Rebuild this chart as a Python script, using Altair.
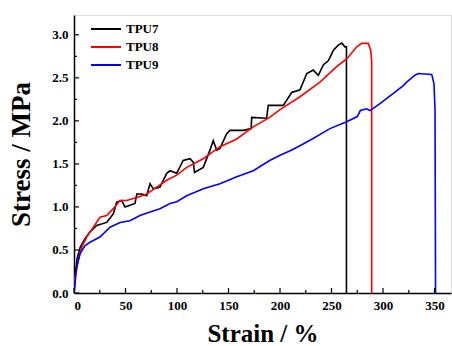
import altair as alt
import pandas as pd

# ---- data ----
tpu7_strain = [0, 1, 3, 6, 10.7, 15.5, 22, 31.7, 38.2, 41.4, 46.3, 49.5, 54.4, 59.2, 61, 66, 70.6,
               73.8, 77, 83.5, 90, 93.2, 99.7, 106, 112.6, 115.8, 117, 125.5, 132, 135.2, 138.5,
               141.7, 148.2, 151.5, 164.4, 172, 172.5, 187, 188.6, 203.2, 211.3, 219.4, 226, 232.3,
               237.2, 242, 247, 251.8, 256.6, 259.9, 263, 264.5, 264.5]
tpu7_stress = [0, 0.2, 0.4, 0.53, 0.63, 0.71, 0.785, 0.82, 0.92, 1.056, 1.075, 1.0, 1.02, 1.04, 1.15,
               1.15, 1.13, 1.27, 1.21, 1.23, 1.39, 1.42, 1.39, 1.54, 1.56, 1.52, 1.40, 1.46, 1.66,
               1.77, 1.66, 1.68, 1.85, 1.89, 1.89, 1.91, 2.04, 2.03, 2.18, 2.18, 2.33, 2.36, 2.55,
               2.59, 2.53, 2.65, 2.70, 2.82, 2.88, 2.905, 2.86, 2.86, 0]

tpu8_strain = [0, 1, 4.2, 7.4, 12.3, 18.8, 25.2, 31.7, 38.2, 44.7, 51, 61, 70.6, 80.3, 90, 99.7,
               109.4, 125.5, 141.7, 158, 174, 190, 200, 219.4, 238.8, 255, 264.7, 274.5, 279.3,
               285.7, 288, 289, 289]
tpu8_stress = [0, 0.18, 0.38, 0.53, 0.65, 0.765, 0.88, 0.90, 0.98, 1.075, 1.075, 1.11, 1.15, 1.23,
               1.31, 1.37, 1.46, 1.56, 1.70, 1.79, 1.93, 2.04, 2.13, 2.28, 2.45, 2.63, 2.72, 2.86,
               2.9, 2.9, 2.82, 2.7, 0]

tpu9_strain = [0, 2.6, 5.8, 10.7, 15.5, 25.2, 35, 44.7, 54.4, 64, 73.8, 83.5, 93.2, 99.7, 109.4,
               125.5, 141.7, 158, 174, 190, 200, 212, 230, 248.5, 264.7, 275, 278, 284, 287.4, 297,
               310, 319.7, 323, 331, 334.3, 347.3, 349.5, 350.5, 351]
tpu9_stress = [0, 0.30, 0.456, 0.55, 0.59, 0.65, 0.765, 0.82, 0.84, 0.90, 0.94, 0.98, 1.04, 1.06,
               1.13, 1.21, 1.27, 1.35, 1.42, 1.54, 1.60, 1.665, 1.78, 1.91, 1.99, 2.05, 2.12, 2.14,
               2.12, 2.20, 2.32, 2.41, 2.45, 2.53, 2.55, 2.54, 2.43, 2.12, 0]

series_names = ["TPU7", "TPU8", "TPU9"]
series_colors = ["#000000", "#ff0000", "#0000ff"]

x_major = [0, 50, 100, 150, 200, 250, 300, 350]
x_minor = [25, 75, 125, 175, 225, 275, 325]
y_major = [0.0, 0.5, 1.0, 1.5, 2.0, 2.5, 3.0]
y_minor = [0.25, 0.75, 1.25, 1.75, 2.25, 2.75]

# ---- build table ----
rows = []
for name, xs, ys in zip(series_names, [tpu7_strain, tpu8_strain, tpu9_strain],
                        [tpu7_stress, tpu8_stress, tpu9_stress]):
    for i, (a, b) in enumerate(zip(xs, ys)):
        rows.append({"series": name, "strain": a, "stress": b, "idx": i})
df = pd.DataFrame(rows)

W, H = 377, 278
FONT = "Liberation Serif"

xscale = alt.Scale(domain=[0, 366], nice=False, zero=False)
yscale = alt.Scale(domain=[0, 3.23], nice=False, zero=False)

lines = alt.Chart(df).mark_line(strokeWidth=1.6, clip=True).encode(
    x=alt.X("strain:Q", scale=xscale,
            axis=alt.Axis(title="Strain / %", values=x_major, ticks=False, grid=False,
                          labelFont=FONT, labelFontWeight="bold", labelFontSize=13,
                          labelColor="black", labelPadding=6,
                          titleFont=FONT, titleFontWeight="bold", titleFontSize=25,
                          titleColor="black", titlePadding=9,
                          domainColor="black", domainWidth=1.5)),
    y=alt.Y("stress:Q", scale=yscale,
            axis=alt.Axis(title="Stress / MPa", values=y_major, format=".1f", ticks=False,
                          grid=False,
                          labelFont=FONT, labelFontWeight="bold", labelFontSize=13,
                          labelColor="black", labelPadding=6,
                          titleFont=FONT, titleFontWeight="bold", titleFontSize=27,
                          titleColor="black", titlePadding=16,
                          domainColor="black", domainWidth=1.5)),
    color=alt.Color("series:N",
                    scale=alt.Scale(domain=series_names, range=series_colors),
                    legend=alt.Legend(title=None, orient="none", legendX=16, legendY=5,
                                      symbolType="stroke", symbolSize=900,
                                      symbolStrokeWidth=2, labelFont=FONT,
                                      labelFontWeight="bold", labelFontSize=13,
                                      labelColor="black", rowPadding=0, clipHeight=18,
                                      labelOffset=4)),
    order="idx:Q",
)

xmaj = alt.Chart(pd.DataFrame({"v": x_major})).mark_rule(color="black", strokeWidth=1.2).encode(
    x=alt.X("v:Q", scale=xscale), y=alt.value(H), y2=alt.value(H - 5))
xmin = alt.Chart(pd.DataFrame({"v": x_minor})).mark_rule(color="black", strokeWidth=1.2).encode(
    x=alt.X("v:Q", scale=xscale), y=alt.value(H), y2=alt.value(H - 3))
ymaj = alt.Chart(pd.DataFrame({"v": y_major})).mark_rule(color="black", strokeWidth=1.2).encode(
    y=alt.Y("v:Q", scale=yscale), x=alt.value(0), x2=alt.value(5))
ymin = alt.Chart(pd.DataFrame({"v": y_minor})).mark_rule(color="black", strokeWidth=1.2).encode(
    y=alt.Y("v:Q", scale=yscale), x=alt.value(0), x2=alt.value(3))

chart = alt.layer(lines, xmaj, xmin, ymaj, ymin).properties(
    width=W, height=H,
    autosize=alt.AutoSizeParams(type="none"),
    padding={"left": 74, "top": 15, "right": 1, "bottom": 53},
).configure_view(stroke="#555555", strokeWidth=1.5).configure(background="white")

chart.save("out.html", embed_options={"renderer": "svg", "actions": False})
